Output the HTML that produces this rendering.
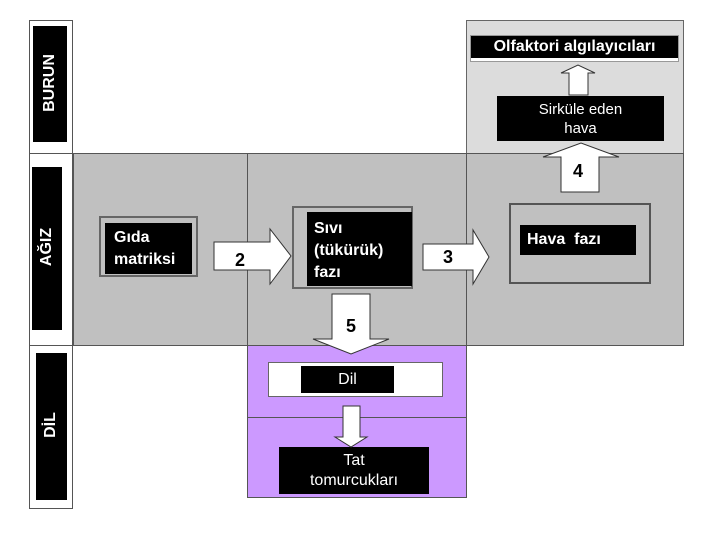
<!DOCTYPE html>
<html><head><meta charset="utf-8"><style>
body{margin:0;width:720px;height:540px;background:#fff;position:relative;overflow:hidden;font-family:"Liberation Sans",sans-serif}
.a{position:absolute;box-sizing:border-box}
.blk{background:#000;color:#fff}
.v{position:absolute;color:#fff;font-weight:bold;font-size:16px;transform:rotate(-90deg);white-space:nowrap;text-align:center}
svg{position:absolute;left:0;top:0}
</style></head><body>
<div class="a" style="left:29px;top:20px;width:44px;height:489px;border:1px solid #555"></div>
<div class="a blk" style="left:33px;top:26px;width:34px;height:116px"></div>
<div class="a blk" style="left:32px;top:167px;width:30px;height:163px"></div>
<div class="a blk" style="left:36px;top:353px;width:31px;height:147px"></div>
<div class="a" style="left:29px;top:153px;width:44px;height:1px;background:#555"></div>
<div class="a" style="left:29px;top:345px;width:44px;height:1px;background:#555"></div>
<div class="v" style="left:20px;top:74px;width:60px">BURUN</div>
<div class="v" style="left:17px;top:238px;width:60px">AĞIZ</div>
<div class="v" style="left:21px;top:416px;width:60px">DİL</div>

<div class="a" style="left:466px;top:20px;width:218px;height:134px;background:#dcdcdc;border:1px solid #666"></div>
<div class="a" style="left:73px;top:153px;width:611px;height:193px;background:#c0c0c0;border:1px solid #555"></div>
<div class="a" style="left:247px;top:153px;width:1px;height:193px;background:#555"></div>
<div class="a" style="left:466px;top:153px;width:1px;height:193px;background:#555"></div>
<div class="a" style="left:247px;top:345px;width:220px;height:153px;background:#cc99ff;border:1px solid #555"></div>
<div class="a" style="left:247px;top:417px;width:220px;height:1px;background:#555"></div>

<div class="a blk" style="left:471px;top:36px;width:207px;height:25px;border-bottom:3px solid #fff;outline:1px solid #999;font-weight:bold;font-size:16px;text-align:center;line-height:22px">Olfaktori algılayıcıları</div>
<div class="a blk" style="left:497px;top:96px;width:167px;height:45px;font-size:15px;text-align:center;line-height:19px;padding-top:4px">Sirküle eden<br>hava</div>

<div class="a" style="left:99px;top:216px;width:99px;height:61px;border:2px solid #666;background:#c0c0c0"></div>
<div class="a blk" style="left:105px;top:223px;width:87px;height:51px;font-weight:bold;font-size:16px;line-height:22px;padding:4px 0 0 9px">Gıda<br>matriksi</div>
<div class="a" style="left:292px;top:206px;width:121px;height:83px;border:2px solid #666;background:#c0c0c0"></div>
<div class="a blk" style="left:307px;top:212px;width:105px;height:74px;font-weight:bold;font-size:16px;line-height:22px;padding:6px 0 0 7px">Sıvı<br>(tükürük)<br>fazı</div>
<div class="a" style="left:509px;top:203px;width:142px;height:81px;border:2px solid #555;background:#c0c0c0"></div>
<div class="a blk" style="left:520px;top:225px;width:116px;height:30px;font-weight:bold;font-size:16px;line-height:30px;padding-left:7px">Hava&nbsp; fazı</div>

<div class="a" style="left:268px;top:362px;width:175px;height:35px;background:#fff;border:1px solid #666"></div>
<div class="a blk" style="left:301px;top:366px;width:93px;height:27px;font-size:16px;text-align:center;line-height:27px">Dil</div>
<div class="a blk" style="left:279px;top:447px;width:150px;height:47px;font-size:16px;text-align:center;line-height:20px;padding-top:4px">Tat<br>tomurcukları</div>

<svg width="720" height="540">
<g fill="#fff" stroke="#333" stroke-width="1">
<polygon points="569,95 569,73 561,73 578,65 595,73 588,73 588,95"/>
<polygon points="561,192 561,157 543,157 581,143 619,157 599,157 599,192"/>
<polygon points="214,242 270,242 270,229 291,256 270,284 270,270 214,270"/>
<polygon points="423,244 473,244 473,230 489,257 473,284 473,270 423,270"/>
<polygon points="332,294 370,294 370,339 389,339 351,354 313,339 332,339"/>
<polygon points="343,406 360,406 360,437 367,437 351,447 335,437 343,437"/>
</g>
<g font-family="Liberation Sans" font-weight="bold" font-size="18" fill="#000" text-anchor="middle">
<text x="578" y="177">4</text>
<text x="240" y="266">2</text>
<text x="448" y="263">3</text>
<text x="351" y="332">5</text>
</g>
</svg>
</body></html>
